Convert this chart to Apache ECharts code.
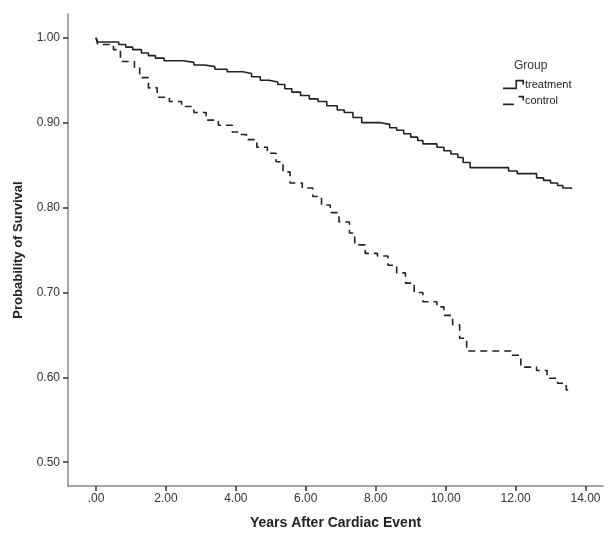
<!DOCTYPE html>
<html>
<head>
<meta charset="utf-8">
<script src="https://cdn.jsdelivr.net/npm/echarts@6/dist/echarts.min.js"></script>
<style>
  html, body { margin: 0; padding: 0; background: #fff; }
  #main { width: 609px; height: 533px; }
</style>
</head>
<body>
<div id="main"></div>
<script>
// Kaplan-Meier estimates (years, survival)
const treatmentTimes = [0, 0.05, 0.65, 0.85, 1.05, 1.3, 1.5, 1.7, 1.95, 2.5, 2.8, 3.1, 3.4, 3.75, 4.2, 4.45, 4.7, 4.95, 5.2, 5.4, 5.6, 5.85, 6.1, 6.35, 6.6, 6.9, 7.1, 7.35, 7.6, 8.15, 8.4, 8.6, 8.8, 9.0, 9.2, 9.35, 9.75, 9.95, 10.15, 10.35, 10.5, 10.7, 11.8, 12.05, 12.6, 12.8, 13.0, 13.2, 13.35, 13.6];
const treatmentSurv  = [1.000, 0.995, 0.992, 0.989, 0.986, 0.982, 0.979, 0.976, 0.973, 0.971, 0.968, 0.966, 0.963, 0.960, 0.958, 0.954, 0.950, 0.948, 0.945, 0.940, 0.936, 0.932, 0.928, 0.925, 0.920, 0.915, 0.912, 0.906, 0.900, 0.898, 0.894, 0.891, 0.887, 0.883, 0.879, 0.875, 0.871, 0.867, 0.863, 0.859, 0.853, 0.847, 0.843, 0.840, 0.835, 0.832, 0.829, 0.826, 0.823, 0.822];

const controlTimes = [0, 0.05, 0.5, 0.7, 1.1, 1.25, 1.5, 1.75, 2.1, 2.45, 2.8, 3.15, 3.5, 3.9, 4.15, 4.3, 4.6, 4.9, 5.15, 5.35, 5.55, 5.9, 6.2, 6.45, 6.7, 6.95, 7.25, 7.4, 7.7, 8.05, 8.35, 8.6, 8.85, 9.1, 9.35, 9.75, 9.95, 10.2, 10.4, 10.6, 11.9, 12.15, 12.6, 12.9, 13.2, 13.45, 13.6];
const controlSurv  = [1.000, 0.992, 0.986, 0.972, 0.965, 0.953, 0.941, 0.930, 0.925, 0.919, 0.912, 0.903, 0.897, 0.889, 0.886, 0.880, 0.871, 0.864, 0.854, 0.842, 0.829, 0.823, 0.813, 0.803, 0.794, 0.783, 0.770, 0.756, 0.746, 0.743, 0.732, 0.723, 0.711, 0.700, 0.689, 0.683, 0.673, 0.662, 0.646, 0.631, 0.626, 0.612, 0.608, 0.599, 0.593, 0.585, 0.583];

const groupNames = ['treatment', 'control'];
const xTicks = [0, 2, 4, 6, 8, 10, 12, 14];
const yTicks = [0.5, 0.6, 0.7, 0.8, 0.9, 1.0];

const pairs = (xs, ys) => xs.map((x, i) => [x, ys[i]]);

// little step-shaped legend keys, like the SPSS ones
const stepIcon = 'path://M0,5.5 L8,5.5 L8,0.5 L13.5,0.5 L13.5,3.5 L12.5,3.5 L12.5,1.5 L9,1.5 L9,6.5 L0,6.5 Z';
const dashIcon = 'path://M0,5.5 L7,5.5 L7,6.5 L0,6.5 Z M10,0.5 L13.5,0.5 L13.5,3.5 L12.5,3.5 L12.5,1.5 L10,1.5 Z';

const chart = echarts.init(document.getElementById('main'));
const axisFont = { fontFamily: 'Liberation Sans, Arial, sans-serif', fontSize: 12, color: '#333' };

chart.setOption({
  backgroundColor: '#fff',
  animation: false,
  title: {
    text: 'Group',
    left: 509,
    top: 55,
    textStyle: { fontFamily: 'Liberation Sans, Arial, sans-serif', fontSize: 12, fontWeight: 'normal', color: '#333' }
  },
  legend: {
    orient: 'vertical',
    left: 498,
    top: 74,
    itemGap: 5,
    itemWidth: 21,
    itemHeight: 10,
    textStyle: { fontFamily: 'Liberation Sans, Arial, sans-serif', fontSize: 11, color: '#222', padding: [0, 0, 0, -4] },
    data: [
      { name: groupNames[0], icon: stepIcon },
      { name: groupNames[1], icon: dashIcon }
    ]
  },
  grid: { left: 68, top: 14, right: 6, bottom: 47, outerBoundsMode: 'none' },
  xAxis: {
    type: 'value',
    min: -0.8,
    max: 14.5,
    name: 'Years After Cardiac Event',
    nameLocation: 'middle',
    nameGap: 30,
    nameTextStyle: { fontFamily: 'Liberation Sans, Arial, sans-serif', fontSize: 14, fontWeight: 'bold', color: '#222' },
    axisLine: { onZero: false, lineStyle: { color: '#888', width: 1.5 } },
    axisTick: { customValues: xTicks, length: 5, lineStyle: { color: '#333', width: 1.5 } },
    axisLabel: Object.assign({
      customValues: xTicks,
      margin: 7,
      formatter: v => v === 0 ? '.00' : v.toFixed(2)
    }, axisFont),
    splitLine: { show: false }
  },
  yAxis: {
    type: 'value',
    min: 0.472,
    max: 1.028,
    name: 'Probability of Survival',
    nameLocation: 'middle',
    nameGap: 43,
    nameTextStyle: { fontFamily: 'Liberation Sans, Arial, sans-serif', fontSize: 13, fontWeight: 'bold', color: '#222' },
    axisLine: { show: true, onZero: false, lineStyle: { color: '#888', width: 1.5 } },
    axisTick: { show: true, customValues: yTicks, length: 5, lineStyle: { color: '#333', width: 1.5 } },
    axisLabel: Object.assign({
      customValues: yTicks,
      margin: 8,
      formatter: v => v.toFixed(2)
    }, axisFont),
    splitLine: { show: false }
  },
  series: [
    {
      name: 'treatment',
      type: 'line',
      step: 'end',
      symbol: 'none',
      data: pairs(treatmentTimes, treatmentSurv),
      lineStyle: { color: '#222', width: 1.6 },
      itemStyle: { color: '#222' }
    },
    {
      name: 'control',
      type: 'line',
      step: 'end',
      symbol: 'none',
      data: pairs(controlTimes, controlSurv),
      lineStyle: { color: '#222', width: 1.6, type: [7, 5] },
      itemStyle: { color: '#222' }
    }
  ]
});
</script>
</body>
</html>
